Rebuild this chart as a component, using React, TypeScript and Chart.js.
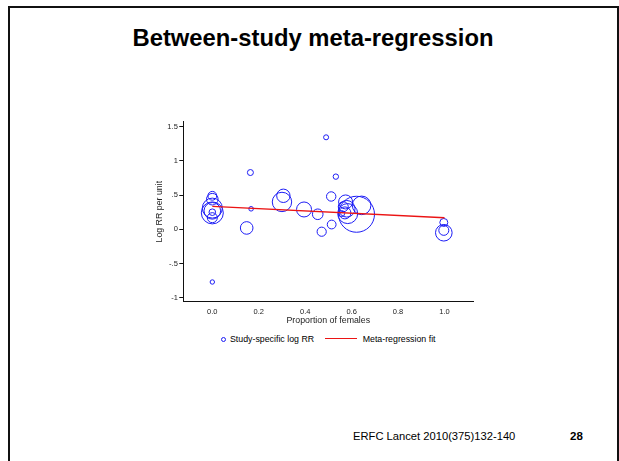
import React, { useEffect, useRef } from 'react';
import { Chart, registerables } from 'chart.js';

Chart.register(...registerables);

// Study-level estimates: proportion of females vs. log RR per unit (bubble size = study weight)
const studyProportionFemale = [
  0, 0, 0, 0, 0, 0, 0, 0,
  0.148, 0.164, 0.167,
  0.300, 0.306,
  0.395, 0.454, 0.471,
  0.490, 0.512, 0.514, 0.532,
  0.557, 0.564, 0.571, 0.574, 0.579, 0.583, 0.621, 0.643,
  0.997, 0.997, 0.997,
];
const studyLogRR = [
  0.49, 0.44, 0.31, 0.27, 0.25, 0.24, 0.17, -0.77,
  0.02, 0.83, 0.30,
  0.40, 0.49,
  0.29, 0.22, -0.035,
  1.345, 0.48, 0.07, 0.77,
  0.23, 0.33, 0.24, 0.40, 0.30, 0.23, 0.22, 0.35,
  0.10, -0.015, -0.05,
];
const studyWeight = [
  4.4, 5.8, 10, 8.3, 3.3, 11, 5, 2.2,
  6.3, 3, 2.3,
  9.7, 6.7,
  7.5, 5.3, 4.6,
  2.5, 4.7, 4.4, 2.7,
  3, 5, 6, 7, 8.3, 10, 18, 9.3,
  4, 5, 8.3,
];

// Meta-regression fitted line
const fitProportionFemale = [0, 1];
const fitLogRR = [0.335, 0.17];

const xTickValues = [0, 0.2, 0.4, 0.6, 0.8, 1.0];
const yTickValues = [-1, -0.5, 0, 0.5, 1, 1.5];
const yTickLabels = ['-1', '-.5', '0', '.5', '1', '1.5'];

const FONT = '"Liberation Sans", Arial, Helvetica, sans-serif';
const BLUE = 'rgb(28, 28, 245)';
const RED = 'rgb(235, 20, 20)';

function Text(props: { x: number; baseline: number; size: number; bold?: boolean; children: React.ReactNode; align?: 'left' | 'center'; width?: number }) {
  const { x, baseline, size, bold, children, align = 'left', width } = props;
  const top = baseline - 0.8465 * size;
  return (
    <div
      style={{
        position: 'absolute',
        left: x,
        top,
        width,
        fontSize: size,
        lineHeight: `${size}px`,
        fontWeight: bold ? 'bold' : 'normal',
        fontFamily: FONT,
        color: '#000',
        whiteSpace: 'nowrap',
        textAlign: align,
      }}
    >
      {children}
    </div>
  );
}

export default function App() {
  const canvasRef = useRef<HTMLCanvasElement | null>(null);

  useEffect(() => {
    const canvas = canvasRef.current;
    if (!canvas) return;
    const tickFont = { family: FONT, size: 7.5 };
    const titleFont = { family: FONT, size: 8.8 };

    const chart = new Chart(canvas, {
      type: 'bubble',
      data: {
        datasets: [
          {
            type: 'bubble',
            label: 'Study-specific log RR',
            data: studyProportionFemale.map((x, i) => ({ x, y: studyLogRR[i], r: studyWeight[i] })),
            backgroundColor: 'rgba(0,0,0,0)',
            borderColor: BLUE,
            borderWidth: 1,
            hoverRadius: 0,
            order: 2,
          },
          {
            type: 'line',
            label: 'Meta-regression fit',
            data: fitProportionFemale.map((x, i) => ({ x, y: fitLogRR[i] })),
            borderColor: RED,
            borderWidth: 1.4,
            pointRadius: 0,
            fill: false,
            order: 1,
          } as any,
        ],
      },
      options: {
        responsive: false,
        animation: false,
        events: [],
        layout: { autoPadding: false, padding: { top: 11.7, right: 6.7, left: 0, bottom: 0 } },
        plugins: { legend: { display: false }, tooltip: { enabled: false } },
        scales: {
          x: {
            type: 'linear',
            min: -0.125,
            max: 1.124,
            grid: { display: false, drawTicks: false },
            border: { display: true, color: '#111', width: 1 },
            afterBuildTicks: (s: any) => {
              s.ticks = xTickValues.map((v) => ({ value: v }));
            },
            afterFit: (s: any) => {
              s.height = 24.3;
            },
            ticks: {
              autoSkip: false,
              maxRotation: 0,
              padding: 6,
              color: '#222',
              font: tickFont,
              callback: (v: any) => Number(v).toFixed(1),
            },
            title: { display: true, text: 'Proportion of females', color: '#222', font: titleFont, padding: 0 },
          },
          y: {
            type: 'linear',
            min: -1.058,
            max: 1.573,
            grid: { display: true, drawOnChartArea: false, drawTicks: true, tickLength: 4, color: '#111' },
            border: { display: true, color: '#111', width: 1 },
            afterBuildTicks: (s: any) => {
              s.ticks = yTickValues.map((v) => ({ value: v }));
            },
            afterFit: (s: any) => {
              s.width = 29.3;
            },
            ticks: {
              autoSkip: false,
              padding: 1.5,
              color: '#222',
              font: tickFont,
              callback: (v: any) => yTickLabels[yTickValues.indexOf(Number(v))] ?? '',
            },
            title: { display: true, text: 'Log RR per unit', color: '#222', font: titleFont, padding: { top: 0.7, bottom: 0 } },
          },
        },
      },
    });
    return () => chart.destroy();
  }, []);

  return (
    <div
      style={{
        position: 'absolute',
        left: 0,
        top: 0,
        width: 619,
        height: 461,
        overflow: 'hidden',
        background: '#fff',
        fontFamily: FONT,
      }}
    >
      {/* slide frame */}
      <div
        style={{
          position: 'absolute',
          left: 8,
          top: 6,
          width: 610.5,
          height: 480,
          border: '2px solid #111',
          boxSizing: 'border-box',
        }}
      />
      <Text x={8} width={610} align="center" baseline={46} size={23.8} bold>
        Between-study meta-regression
      </Text>

      <canvas
        ref={canvasRef}
        width={326}
        height={216}
        style={{ position: 'absolute', left: 154, top: 110, width: 326, height: 216 }}
      />

      {/* legend */}
      <div
        style={{
          position: 'absolute',
          left: 220.5,
          top: 336.5,
          width: 5,
          height: 5,
          borderRadius: '50%',
          border: `1.3px solid ${BLUE}`,
          boxSizing: 'border-box',
        }}
      />
      <Text x={230} baseline={342} size={8.8}>
        Study-specific log RR
      </Text>
      <div style={{ position: 'absolute', left: 325, top: 338, width: 32, height: 1.4, background: RED }} />
      <Text x={362.7} baseline={342} size={8.8}>
        Meta-regression fit
      </Text>

      <Text x={353} baseline={440.7} size={11.2}>
        ERFC Lancet 2010(375)132-140
      </Text>
      <Text x={570} baseline={440.7} size={11.5} bold>
        28
      </Text>
    </div>
  );
}
